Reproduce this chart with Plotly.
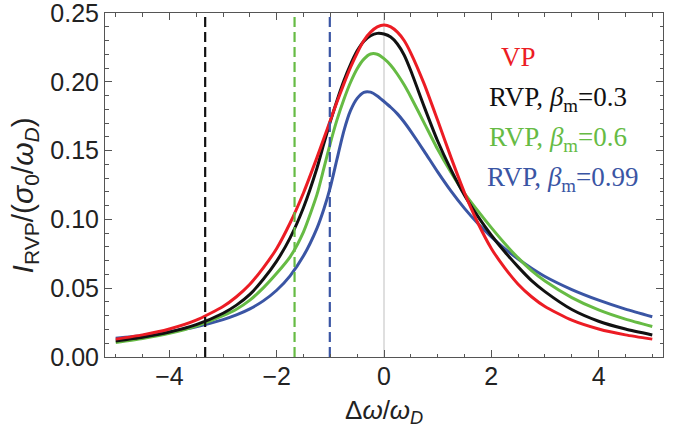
import plotly.graph_objects as go

# Detuning grid (in units of the Doppler width), finer near the line centre
detuning = [-5, -4.5, -4, -3.5, -3, -2.75, -2.5, -2.25, -2, -1.75, -1.5, -1.25,
            -1.125, -1, -0.875, -0.75, -0.625, -0.5, -0.375, -0.25, -0.125, 0,
            0.125, 0.25, 0.375, 0.5, 0.75, 1, 1.25, 1.5, 1.75, 2, 2.25, 2.5,
            2.75, 3, 3.5, 4, 4.5, 5]

# Voigt profile
vp = [0.0130, 0.0161, 0.0204, 0.0268, 0.0367, 0.0438, 0.0529, 0.0648,
      0.0789, 0.0974, 0.1194, 0.1449, 0.1584, 0.1720, 0.1855, 0.1983,
      0.2104, 0.2209, 0.2300, 0.2361, 0.2399, 0.2412,
      0.2399, 0.2361, 0.2300, 0.2209, 0.1983, 0.1720, 0.1449, 0.1194,
      0.0974, 0.0789, 0.0648, 0.0529, 0.0438, 0.0367, 0.0268, 0.0204,
      0.0161, 0.0130]

# Relativistic Voigt profiles
rvp_03 = [0.0117, 0.0144, 0.0181, 0.0235, 0.0318, 0.0377, 0.0455, 0.0565,
          0.0697, 0.0866, 0.1087, 0.1372, 0.1545, 0.1712, 0.1865, 0.2005,
          0.2125, 0.2225, 0.2295, 0.2335, 0.2352, 0.2347,
          0.2325, 0.2275, 0.2195, 0.2080, 0.1818, 0.1570, 0.1360, 0.1175,
          0.1022, 0.0885, 0.0765, 0.0655, 0.0555, 0.0475, 0.0345, 0.0260,
          0.0203, 0.0160]

rvp_06 = [0.0105, 0.0134, 0.0172, 0.0225, 0.0300, 0.0347, 0.0413, 0.0502,
          0.0608, 0.0728, 0.0910, 0.1180, 0.1365, 0.1555, 0.1725, 0.1870,
          0.1995, 0.2095, 0.2165, 0.2202, 0.2200, 0.2168,
          0.2120, 0.2055, 0.1978, 0.1890, 0.1700, 0.1510, 0.1342, 0.1190,
          0.1062, 0.0940, 0.0825, 0.0720, 0.0628, 0.0552, 0.0432, 0.0342,
          0.0275, 0.0222]

rvp_099 = [0.0136, 0.0157, 0.0184, 0.0220, 0.0272, 0.0306, 0.0350, 0.0408,
           0.0485, 0.0590, 0.0735, 0.0935, 0.1070, 0.1235, 0.1440, 0.1640,
           0.1790, 0.1880, 0.1924, 0.1925, 0.1897, 0.1857,
           0.1815, 0.1767, 0.1708, 0.1640, 0.1495, 0.1345, 0.1205, 0.1080,
           0.0970, 0.0873, 0.0788, 0.0712, 0.0645, 0.0585, 0.0490, 0.0413,
           0.0348, 0.0293]

# Cut-off detunings -1/beta_m for beta_m = 0.3, 0.6, 0.99
cutoffs = [-3.333, -1.667, -1.010]

RED = "#ec1c24"
BLACK = "#111111"
GREEN = "#66bb44"
BLUE = "#3a55a4"

fig = go.Figure()

# Line-centre reference
fig.add_trace(go.Scatter(x=[0, 0], y=[0, 0.25], mode="lines",
                         line=dict(color="#d4d4d4", width=1.5),
                         hoverinfo="skip", showlegend=False))

profiles = [(rvp_099, BLUE), (rvp_06, GREEN), (rvp_03, BLACK), (vp, RED)]
for ys, col in profiles:
    fig.add_trace(go.Scatter(x=detuning, y=ys, mode="lines",
                             line=dict(color=col, width=3, shape="spline", smoothing=0.6),
                             showlegend=False))

for xc, col in zip(cutoffs, [BLACK, GREEN, BLUE]):
    fig.add_trace(go.Scatter(x=[xc, xc], y=[0, 0.25], mode="lines",
                             line=dict(color=col, width=2.2, dash="10px,5px"),
                             hoverinfo="skip", showlegend=False))

sans = "Liberation Sans, Arial, sans-serif"
serif = "Liberation Serif, Times New Roman, serif"

axis_common = dict(
    showline=True, linecolor="#555555", linewidth=1, mirror="ticks",
    ticks="inside", ticklen=7, tickwidth=1, tickcolor="#555555",
    showgrid=False, zeroline=False, ticklabeloverflow="allow", automargin=False,
    tickfont=dict(family=sans, size=25, color="#222222"),
)

fig.update_xaxes(range=[-5.2, 5.2], tickvals=[-4, -2, 0, 2, 4],
                 ticklabelstandoff=-3,
                 minor=dict(ticks="inside", ticklen=3.5, dtick=0.5, tick0=0,
                            tickcolor="#555555", showgrid=False),
                 **axis_common)
fig.update_yaxes(range=[0, 0.25001], tickvals=[0, 0.05, 0.10, 0.15, 0.20, 0.25],
                 tickformat=".2f",
                 minor=dict(ticks="inside", ticklen=3.5, dtick=0.01, tick0=0,
                            tickcolor="#555555", showgrid=False),
                 **axis_common)

annotations = [
    dict(text="Δ<i>ω</i>/<i>ω</i><sub><i>D</i></sub>", xref="paper", yref="paper",
         x=0.5, y=-0.158, xanchor="center", yanchor="middle", showarrow=False,
         font=dict(family=sans, size=26, color="#222222")),
    dict(text="<i>I</i><sub>RVP</sub>/(<i>σ</i><sub>0</sub>/<i>ω</i><sub><i>D</i></sub>)",
         xref="paper", yref="paper", x=-0.145, y=0.47, xanchor="center",
         yanchor="middle", textangle=-90, showarrow=False,
         font=dict(family=sans, size=30, color="#222222")),
]

legend_rows = [
    ("VP", RED, 2.15, 0.2180),
    ("RVP, <i>β</i><sub>m</sub>=0.3", BLACK, 1.92, 0.1878),
    ("RVP, <i>β</i><sub>m</sub>=0.6", GREEN, 1.92, 0.1588),
    ("RVP, <i>β</i><sub>m</sub>=0.99", BLUE, 1.89, 0.1297),
]
for txt, col, lx, ly in legend_rows:
    annotations.append(dict(text=txt, x=lx, y=ly, xref="x", yref="y",
                            xanchor="left", yanchor="middle", showarrow=False,
                            font=dict(family=serif, size=27, color=col)))

fig.update_layout(
    width=685, height=433,
    margin=dict(l=105, r=22, t=13, b=76),
    paper_bgcolor="white", plot_bgcolor="white",
    annotations=annotations,
)

fig.write_html("out.html")
